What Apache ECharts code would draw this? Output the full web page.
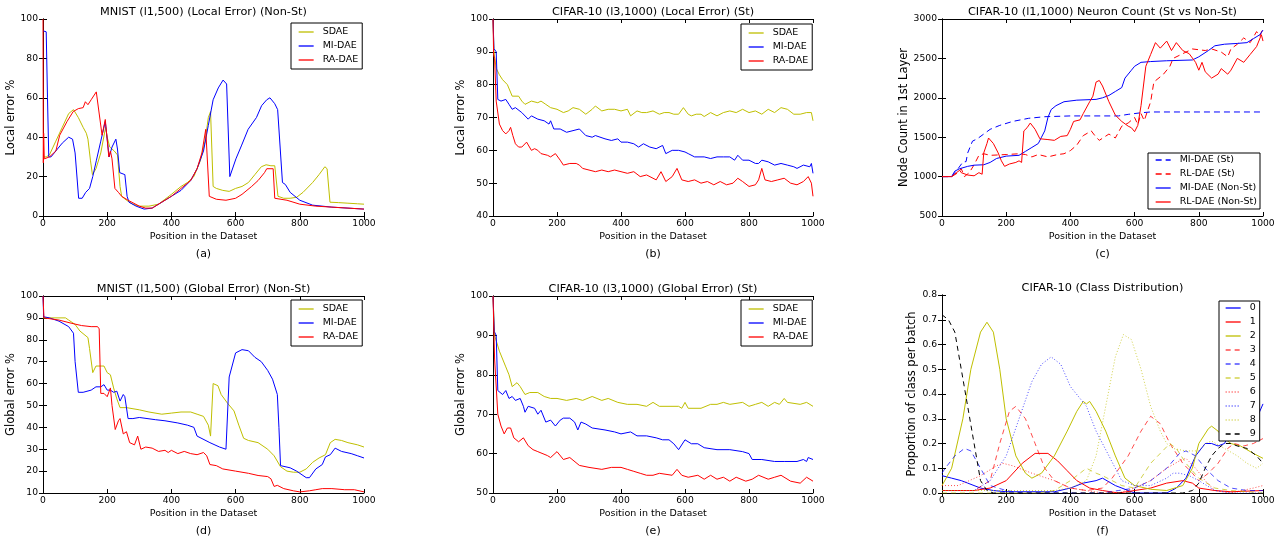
<!DOCTYPE html>
<html><head><meta charset="utf-8">
<script src="https://cdn.jsdelivr.net/npm/echarts@6/dist/echarts.min.js"></script>
<style>html,body{margin:0;padding:0;background:#fff}#c{width:1284px;height:537px}</style>
</head><body><div id="c"></div><script>
// ---------- data: [position, value] ----------
const xTicks = [0, 200, 400, 600, 800, 1000];

// (a) MNIST local error
const a_SDAE = [[0,30],[3,30],[10,30],[20,31],[40,38],[60,45],[80,52],[95,54],[110,50],[125,45],[135,42],[140,39],[148,28],[154,21],[165,24],[180,32],[195,45],[200,40],[208,35],[222,33],[232,31],[240,15],[245,10],[260,8],[280,6],[300,5],[330,5],[360,6],[400,11],[430,15],[450,17],[470,20],[490,28],[505,38],[515,50],[522,53],[530,15],[540,14],[560,13],[580,12.5],[600,14],[620,15],[640,17],[660,21],[680,25],[695,26],[710,25.5],[722,25.5],[732,10],[750,9],[770,9],[790,9.5],[810,12],[840,17],[860,21],[878,25],[885,24],[894,7],[920,6.8],[950,6.5],[980,6.2],[1000,6]];
const a_MI = [[0,94],[10,93.5],[14,60],[18,30],[25,30],[40,33],[60,37],[80,40],[92,39],[100,32],[111,9],[122,9],[133,12],[145,14],[155,20],[166,28],[180,38],[194,48],[206,30],[215,35],[227,39],[232,34],[239,22],[255,21],[262,10],[268,7],[290,5],[315,3.5],[340,4],[370,7],[400,10],[430,13],[460,18],[480,24],[500,33],[515,46],[530,59],[546,65],[561,69],[572,67],[582,20],[601,29],[619,36],[639,44],[665,50],[681,56],[697,59],[707,60],[722,57],[731,54],[746,17],[755,16],[770,12],[800,8],[840,5.5],[900,4.5],[950,4],[1000,3.5]];
const a_RA = [[0,100],[1,27],[2,42],[4,29],[20,30],[40,33],[52,41],[75,48],[94,53],[110,54.5],[125,55],[132,58],[140,56.5],[150,59],[166,63],[172,62],[184,41],[194,49],[205,30],[210,33],[215,29],[224,14],[235,12],[245,10],[265,8],[300,5],[320,4],[340,4],[370,7],[400,10],[430,14],[460,18],[480,24],[495,32],[507,44],[518,10],[540,8.5],[570,8],[600,9],[620,11],[650,15],[670,18],[690,22],[697,24],[717,24],[722,9],[760,8],[800,6],[850,5],[900,4.5],[1000,3.5]];

// (b) CIFAR-10 local error
const b_SDAE = [[0,100],[3,90],[10,85],[20,83],[30,81.5],[45,80],[60,76.5],[80,76.5],[90,75],[100,74],[120,75],[140,74.5],[150,75],[165,74],[180,73],[200,72.5],[220,71.5],[235,72],[250,73],[270,72.5],[290,71],[310,72.5],[320,73.5],[340,72],[360,72.5],[380,72.5],[400,72],[420,72.5],[430,70.5],[450,72],[465,71.5],[480,71.5],[500,72],[520,71],[535,71.5],[550,71.5],[565,71],[580,71],[595,73],[610,71],[620,70.5],[635,71],[650,71],[660,70.3],[680,71.5],[700,70.5],[720,71.5],[740,72],[760,71.5],[780,72.5],[800,71.5],[820,72],[840,71],[860,72.5],[880,71.5],[900,73],[920,72.5],[940,71],[960,71],[980,71.5],[995,71.5],[1000,69]];
const b_MI = [[0,100],[3,91],[10,90],[15,75.5],[25,75],[40,75.5],[50,74],[60,72.5],[70,73],[90,71.5],[110,69.5],[120,70.5],[140,69.5],[160,69],[175,68],[180,69],[190,66.5],[210,66.5],[230,65.5],[250,66],[270,66.5],[290,64.5],[310,64],[320,64.5],[350,63.5],[370,63],[390,63.5],[400,62.5],[420,62.5],[440,62],[455,61],[470,62],[490,61],[510,60.5],[530,61.5],[540,59],[560,60],[580,60],[600,59.5],[610,59],[630,58],[660,58],[680,57.5],[700,58],[720,58],[740,58],[755,57],[765,58.5],[780,57],[800,57],[820,56],[830,56],[840,57],[860,56.5],[880,55.5],[900,56],[920,55.5],[940,55],[950,54.5],[970,55.5],[990,55],[995,56],[1000,53]];
const b_RA = [[0,100],[2,89],[5,88],[10,75],[20,68],[30,66],[40,65],[50,66],[55,67],[62,64.5],[70,62],[80,61],[90,61],[105,62.5],[110,62.5],[120,60],[130,60.5],[140,60],[150,59],[170,58.5],[180,58],[195,59],[200,58.5],[210,57],[220,55.5],[240,56],[260,56],[270,55.5],[280,54.5],[300,54],[320,53.5],[340,54],[360,53.5],[380,54],[400,53.5],[420,53],[440,53.5],[460,52],[480,52.5],[500,51.5],[510,51],[525,53.5],[540,50.5],[560,52],[575,54.5],[590,51],[610,50.5],[630,51],[650,50],[670,50.5],[690,49.5],[710,50.5],[730,49.5],[750,50],[765,51.5],[780,50.5],[800,49],[820,49.5],[830,51],[840,54.5],[850,51],[870,50.5],[890,51],[910,51.5],[930,50],[950,49.5],[970,50.5],[985,52],[995,50],[1000,46]];

// (c) neuron count
const c_MI_St = [[0,1000],[30,1000],[40,1050],[50,1100],[65,1185],[75,1190],[80,1300],[95,1450],[110,1480],[130,1540],[150,1600],[180,1650],[220,1700],[270,1740],[320,1760],[400,1770],[550,1770],[580,1790],[620,1810],[650,1820],[1000,1820]];
const c_RL_St = [[0,1000],[30,1000],[50,1050],[60,1100],[70,1000],[85,1050],[100,1150],[115,1270],[130,1290],[150,1270],[200,1280],[240,1290],[260,1280],[280,1250],[300,1280],[330,1250],[360,1280],[380,1290],[400,1330],[420,1400],[440,1520],[465,1580],[480,1500],[490,1460],[520,1540],[540,1490],[560,1640],[580,1680],[600,1750],[610,1660],[620,1800],[630,1710],[650,1950],[660,2200],[690,2300],[710,2400],[720,2500],[750,2560],[780,2620],[820,2600],[840,2620],[870,2580],[890,2520],[900,2620],[920,2680],[940,2760],[960,2700],[980,2840],[990,2780],[1000,2880]];
const c_MI_Non = [[0,1000],[30,1000],[40,1070],[55,1100],[80,1130],[100,1145],[130,1150],[150,1180],[170,1230],[200,1260],[240,1270],[260,1320],[280,1370],[300,1420],[310,1500],[320,1580],[330,1750],[340,1850],[355,1900],[380,1950],[420,1970],[480,1980],[500,2000],[520,2030],[540,2080],[560,2130],[570,2250],[590,2350],[600,2400],[620,2450],[650,2460],[700,2470],[780,2480],[800,2520],[830,2600],[850,2660],[880,2680],[920,2690],[950,2700],[970,2750],[990,2800],[1000,2860]];
const c_RL_Non = [[0,1000],[30,1000],[45,1050],[55,1080],[60,1050],[80,1020],[100,1010],[115,1050],[125,1030],[130,1300],[140,1420],[145,1490],[160,1420],[175,1300],[185,1200],[195,1130],[210,1160],[230,1180],[240,1200],[248,1180],[255,1580],[265,1620],[275,1680],[290,1600],[305,1480],[330,1470],[350,1460],[370,1510],[390,1520],[400,1600],[410,1700],[430,1720],[440,1800],[460,1950],[470,2020],[480,2200],[490,2220],[500,2150],[520,1950],[540,1780],[560,1700],[580,1640],[590,1620],[600,1570],[610,1650],[620,1900],[635,2400],[650,2550],[665,2700],[680,2630],[700,2720],[715,2600],[730,2700],[750,2600],[770,2560],[790,2450],[800,2350],[810,2450],[820,2330],[840,2250],[860,2300],[870,2370],[890,2300],[900,2350],[920,2500],[940,2450],[960,2550],[980,2650],[995,2800],[1000,2720]];

// (d) MNIST global error
const d_SDAE = [[0,90],[70,90],[80,89],[100,87],[115,84],[140,81],[145,76],[155,65],[165,68],[190,68],[200,65],[210,64],[220,58],[230,53],[240,49],[260,49],[300,48],[330,47],[370,46],[400,46.5],[430,47],[460,47],[480,46],[500,45],[515,41],[522,36],[530,60],[545,59],[555,55],[575,51],[595,47.5],[610,41],[625,35],[640,34],[670,33],[700,30],[720,27],[740,22],[760,20],[780,19.5],[800,19.5],[820,21],[840,24],[860,26],[880,27.5],[885,28],[895,33],[910,34.5],[930,34],[950,33],[980,32],[1000,31]];
const d_MI = [[0,100],[2,90.5],[20,90],[50,88.5],[80,86],[95,83],[100,70],[110,56],[125,56],[150,57],[165,58.5],[180,58.5],[190,59.5],[200,57],[210,57],[220,56],[230,56.5],[240,52],[250,55],[255,54],[265,44],[280,44],[300,44.5],[350,43.5],[380,43],[420,42],[450,41],[470,40],[480,36],[520,33],[550,31],[570,30],[580,63],[600,74],[620,75.5],[640,75],[660,72],[680,70],[700,66],[715,62],[730,55],[735,40],[740,22.5],[770,21.5],[790,20],[820,17],[830,17],[850,21],[870,23],[880,26.5],[895,27.5],[910,30.5],[930,29],[960,28],[980,27],[1000,26]];
const d_RA = [[0,100],[3,90],[50,89],[90,87.5],[120,86.5],[150,86],[170,86],[175,85],[180,55.5],[190,55.5],[200,54],[210,58],[215,50],[225,39],[235,43],[240,44],[250,37],[260,38],[270,33],[285,32],[295,36],[305,30],[320,31],[340,30.5],[360,29],[380,29.5],[390,28.5],[400,29.5],[420,28],[440,29],[460,28],[480,27.5],[500,28.5],[510,27],[520,23],[540,22.5],[545,23],[560,21],[600,20],[640,19],[670,18],[700,17.5],[710,16.5],[720,13],[730,13.5],[750,12],[780,11],[800,10.5],[830,11],[850,11.5],[870,12],[900,12],[940,11.5],[970,11.5],[1000,10.5]];

// (e) CIFAR-10 global error
const e_SDAE = [[0,100],[5,90],[20,86],[40,82],[50,80],[60,77],[75,78],[85,77],[100,75],[115,75.5],[120,75],[140,75.5],[160,74.5],[180,74],[200,74],[230,73.5],[260,74],[280,73.5],[310,74.5],[340,73.5],[360,74],[390,73],[420,72.5],[450,72.5],[480,72],[500,73],[520,72],[550,72],[580,72],[590,71.5],[600,73],[610,71.5],[650,71.5],[680,72.5],[700,72.5],[720,73],[740,72.5],[780,73],[800,72],[820,72.5],[840,73],[860,72],[880,73],[895,72.5],[910,74],[920,73],[960,72.5],[980,73],[1000,72]];
const e_MI = [[0,100],[4,91],[10,90],[15,76],[30,75],[40,76],[50,74],[60,74.5],[70,73.5],[85,74],[95,72],[100,70.5],[110,72],[130,71.5],[140,70],[150,71],[165,68],[180,68.5],[195,67],[210,68.5],[220,69],[240,69],[255,68],[265,66],[275,68],[290,67.5],[310,66.5],[350,66],[380,65.5],[400,65],[430,65.5],[450,64.5],[480,64.5],[510,64],[530,63.5],[550,63.5],[565,62.5],[580,61],[600,63.5],[620,62.5],[640,62.5],[660,61.5],[700,61],[740,61],[780,60.5],[800,60],[810,58.5],[840,58.5],[880,58],[910,58],[950,58],[970,58.5],[980,58],[985,59],[1000,58.5]];
const e_RA = [[0,100],[5,84],[15,70],[25,67],[35,65],[45,66.5],[55,66.5],[65,64],[80,63],[95,64],[110,62],[125,61],[140,60.5],[170,59.5],[180,59],[200,60.5],[220,58.5],[240,59],[270,57],[300,56.5],[340,56],[370,56.5],[400,56.5],[420,56],[440,55.5],[460,55],[480,54.5],[500,54.5],[520,55],[560,54.5],[575,56],[590,54.5],[610,54],[640,54.5],[660,53.5],[680,54.5],[700,53.5],[720,54],[740,53],[760,54],[790,53],[810,53.5],[830,54.5],[860,53.5],[880,54],[900,54.5],[930,53],[960,52.5],[980,54],[1000,53]];

// (f) class distribution
const classNames = ['0','1','2','3','4','5','6','7','8','9'];
const f_0 = [[0,0.07],[30,0.06],[60,0.05],[80,0.04],[120,0.02],[160,0.01],[200,0.005],[350,0.005],[400,0.02],[440,0.04],[480,0.05],[500,0.06],[540,0.03],[580,0.01],[600,0],[700,0],[730,0.02],[760,0.06],[790,0.15],[820,0.2],[840,0.2],[860,0.19],[880,0.2],[900,0.25],[940,0.3],[980,0.3],[1000,0.36]];
const f_1 = [[0,0.01],[100,0.01],[150,0.02],[200,0.05],[250,0.12],[290,0.16],[330,0.16],[360,0.13],[390,0.09],[420,0.05],[460,0.02],[500,0.01],[550,0],[600,0.01],[650,0.02],[700,0.04],[750,0.05],[780,0.04],[800,0.02],[850,0.01],[900,0.005],[1000,0.01]];
const f_2 = [[0,0.03],[30,0.1],[65,0.3],[90,0.5],[120,0.65],[140,0.69],[160,0.65],[180,0.5],[200,0.3],[230,0.15],[260,0.08],[280,0.06],[310,0.08],[350,0.15],[390,0.25],[420,0.33],[440,0.37],[450,0.36],[460,0.37],[480,0.33],[510,0.25],[540,0.15],[570,0.06],[600,0.03],[650,0.015],[700,0.01],[750,0.03],[780,0.1],[800,0.2],[830,0.26],[840,0.27],[860,0.25],[880,0.22],[900,0.2],[930,0.19],[970,0.16],[1000,0.14]];
const f_3 = [[0,0.01],[100,0.01],[150,0.05],[180,0.2],[210,0.33],[230,0.35],[260,0.3],[290,0.2],[320,0.1],[350,0.05],[400,0.02],[450,0.01],[500,0.02],[530,0.06],[580,0.15],[620,0.25],[650,0.31],[680,0.28],[710,0.2],[750,0.12],[780,0.08],[800,0.05],[830,0.08],[860,0.12],[890,0.18],[910,0.2],[940,0.19],[970,0.2],[1000,0.22]];
const f_4 = [[0,0.08],[10,0.1],[40,0.15],[70,0.18],[90,0.17],[120,0.1],[150,0.03],[200,0.01],[250,0],[500,0],[550,0.01],[600,0.02],[650,0.05],[700,0.1],[740,0.16],[760,0.17],[790,0.15],[820,0.1],[860,0.05],[900,0.02],[950,0.01],[1000,0.01]];
const f_5 = [[0,0],[300,0],[350,0.01],[400,0.05],[440,0.09],[450,0.1],[480,0.08],[500,0.07],[530,0.05],[560,0.03],[600,0.02],[620,0.06],[650,0.12],[680,0.16],[710,0.2],[730,0.18],[760,0.12],[800,0.06],[850,0.02],[900,0.01],[1000,0]];
const f_6 = [[0,0.03],[50,0.03],[120,0.07],[170,0.11],[190,0.12],[220,0.11],[280,0.08],[350,0.05],[400,0.02],[450,0.01],[500,0],[550,0],[600,0.02],[650,0.05],[700,0.1],[740,0.13],[760,0.14],[790,0.1],[820,0.05],[850,0.01],[900,0],[970,0.02],[1000,0.03]];
const f_7 = [[0,0.01],[100,0.01],[150,0.05],[200,0.15],[240,0.3],[280,0.45],[310,0.52],[340,0.55],[370,0.52],[400,0.43],[450,0.35],[480,0.25],[520,0.15],[560,0.05],[600,0.03],[650,0.03],[700,0.06],[720,0.08],[740,0.08],[770,0.07],[800,0.05],[850,0.01],[900,0],[1000,0]];
const f_8 = [[0,0.01],[350,0.01],[400,0.02],[450,0.05],[480,0.15],[510,0.35],[540,0.55],[565,0.64],[590,0.62],[620,0.5],[650,0.35],[680,0.25],[700,0.2],[720,0.18],[760,0.17],[800,0.17],[820,0.2],[840,0.21],[880,0.18],[920,0.15],[950,0.12],[980,0.1],[1000,0.12]];
const f_9 = [[0,0.72],[20,0.7],[40,0.65],[60,0.5],[80,0.35],[100,0.2],[120,0.05],[140,0.01],[160,0],[750,0],[780,0.01],[800,0.04],[820,0.1],[840,0.15],[860,0.18],[880,0.2],[900,0.2],[920,0.19],[950,0.18],[980,0.15],[1000,0.12]];

// ---------- styling / layout ----------
const Y = '#bfbf00', B = '#0000ff', R = '#ff0000', K = '#000000';
const FONT = 'DejaVu Sans';

const panels = [
  { title:'MNIST (l1,500) (Local Error) (Non-St)', cap:'(a)', grid:{left:43,top:19,width:321,height:197},
    yMin:0,yMax:100,yInt:20,yName:'Local error %',yGap:22,
    legend:{left:291,top:23,pad:[4,4,4,7]},
    series:[['SDAE',a_SDAE,Y,'solid'],['MI-DAE',a_MI,B,'solid'],['RA-DAE',a_RA,R,'solid']] },
  { title:'CIFAR-10 (l3,1000) (Local Error) (St)', cap:'(b)', grid:{left:493,top:19,width:320,height:197},
    yMin:40,yMax:100,yInt:10,yName:'Local error %',yGap:20,
    legend:{left:741,top:24,pad:[4,4,4,7]},
    series:[['SDAE',b_SDAE,Y,'solid'],['MI-DAE',b_MI,B,'solid'],['RA-DAE',b_RA,R,'solid']] },
  { title:'CIFAR-10 (l1,1000) Neuron Count (St vs Non-St)', cap:'(c)', grid:{left:942,top:19,width:321,height:197},
    yMin:500,yMax:3000,yInt:500,yName:'Node Count in 1st Layer',yGap:27,
    legend:{left:1148,top:153,pad:[2,3,2,7]},
    series:[['MI-DAE (St)',c_MI_St,B,[6,4]],['RL-DAE (St)',c_RL_St,R,[6,4]],['MI-DAE (Non-St)',c_MI_Non,B,'solid'],['RL-DAE (Non-St)',c_RL_Non,R,'solid']] },
  { title:'MNIST (l1,500) (Global Error) (Non-St)', cap:'(d)', grid:{left:43,top:296,width:321,height:197},
    yMin:10,yMax:100,yInt:10,yName:'Global error %',yGap:22,
    legend:{left:291,top:300,pad:[4,4,4,7]},
    series:[['SDAE',d_SDAE,Y,'solid'],['MI-DAE',d_MI,B,'solid'],['RA-DAE',d_RA,R,'solid']] },
  { title:'CIFAR-10 (l3,1000) (Global Error) (St)', cap:'(e)', grid:{left:493,top:296,width:320,height:197},
    yMin:50,yMax:100,yInt:10,yName:'Global error %',yGap:20,
    legend:{left:741,top:300,pad:[4,4,4,7]},
    series:[['SDAE',e_SDAE,Y,'solid'],['MI-DAE',e_MI,B,'solid'],['RA-DAE',e_RA,R,'solid']] },
  { title:'CIFAR-10 (Class Distribution)', cap:'(f)', grid:{left:942,top:295,width:321,height:198},
    yMin:0,yMax:0.8,yInt:0.1,yName:'Proportion of class per batch',yGap:18,fmt:v=>v.toFixed(1),
    legend:{left:1219,top:301,pad:[2,4,2,6]},
    series:[[classNames[0],f_0,B,'solid'],[classNames[1],f_1,R,'solid'],[classNames[2],f_2,Y,'solid'],
            [classNames[3],f_3,R,[5,4],0.7],[classNames[4],f_4,B,[5,4],0.7],[classNames[5],f_5,Y,[5,4],0.7],
            [classNames[6],f_6,R,[1,2],0.7],[classNames[7],f_7,B,[1,2],0.7],[classNames[8],f_8,Y,[1,2],0.7],
            [classNames[9],f_9,K,[5,4]]] }
];

const option = { animation:false, backgroundColor:'#fff', textStyle:{fontFamily:FONT},
  title:[], grid:[], xAxis:[], yAxis:[], legend:[], series:[] };

const tickStyle = {inside:true, length:4, lineStyle:{color:'#000', width:1}};
const lineAx = {show:true, lineStyle:{color:'#000', width:1}};

panels.forEach((p, i) => {
  const g = p.grid;
  const cx = g.left + g.width/2;
  option.grid.push({left:g.left, top:g.top, width:g.width, height:g.height, containLabel:false});
  option.title.push({text:p.title, left:cx, top:g.top-12, textAlign:'center', padding:0,
    textStyle:{fontSize:11.3, fontWeight:'normal', color:'#000', fontFamily:FONT}});
  option.title.push({text:p.cap, left:cx, top:g.top+g.height+33, textAlign:'center', padding:0,
    textStyle:{fontSize:11, fontWeight:'normal', color:'#000', fontFamily:FONT}});
  option.xAxis.push({type:'value', gridIndex:i, min:0, max:1000, interval:200, position:'bottom',
    axisLine:lineAx, axisTick:tickStyle, splitLine:{show:false},
    axisLabel:{color:'#000', fontSize:9.2, margin:3, fontFamily:FONT, formatter:v=>String(v)},
    name:'Position in the Dataset', nameLocation:'middle', nameGap:16,
    nameTextStyle:{fontSize:9.5, color:'#000', fontFamily:FONT}});
  option.xAxis.push({type:'value', gridIndex:i, min:0, max:1000, interval:200, position:'top',
    axisLine:lineAx, axisTick:tickStyle, splitLine:{show:false}, axisLabel:{show:false}});
  option.yAxis.push({type:'value', gridIndex:i, min:p.yMin, max:p.yMax, interval:p.yInt, position:'left',
    axisLine:lineAx, axisTick:tickStyle, splitLine:{show:false},
    axisLabel:{color:'#000', fontSize:9.2, margin:5, fontFamily:FONT, formatter:p.fmt || (v=>String(v))},
    name:p.yName, nameLocation:'middle', nameGap:p.yGap, nameRotate:90,
    nameTextStyle:{fontSize:11.5, color:'#000', fontFamily:FONT}});
  option.yAxis.push({type:'value', gridIndex:i, min:p.yMin, max:p.yMax, interval:p.yInt, position:'right',
    axisLine:lineAx, axisTick:tickStyle, splitLine:{show:false}, axisLabel:{show:false}});
  option.legend.push({orient:'vertical', left:p.legend.left, top:p.legend.top, padding:p.legend.pad,
    borderColor:'#000', borderWidth:1, backgroundColor:'#fff', itemWidth:15, itemHeight:10, itemGap:4,
    itemStyle:{opacity:0, borderWidth:0}, lineStyle:{width:1.3},
    selectedMode:false, data:p.series.map(s=>s[0]),
    textStyle:{fontSize:9.5, color:'#000', fontFamily:FONT, padding:[0,0,0,4]}});
  p.series.forEach(s => {
    option.series.push({type:'line', name:s[0], xAxisIndex:2*i, yAxisIndex:2*i, data:s[1],
      showSymbol:false, symbol:'none', clip:true, z:3,
      lineStyle:{color:s[2], width:1, type:s[3], opacity:s[4]||1},
      itemStyle:{color:s[2], opacity:s[4]||1}});
  });
});

const chart = echarts.init(document.getElementById('c'), null, {renderer:'canvas'});
chart.setOption(option);
</script></body></html>
